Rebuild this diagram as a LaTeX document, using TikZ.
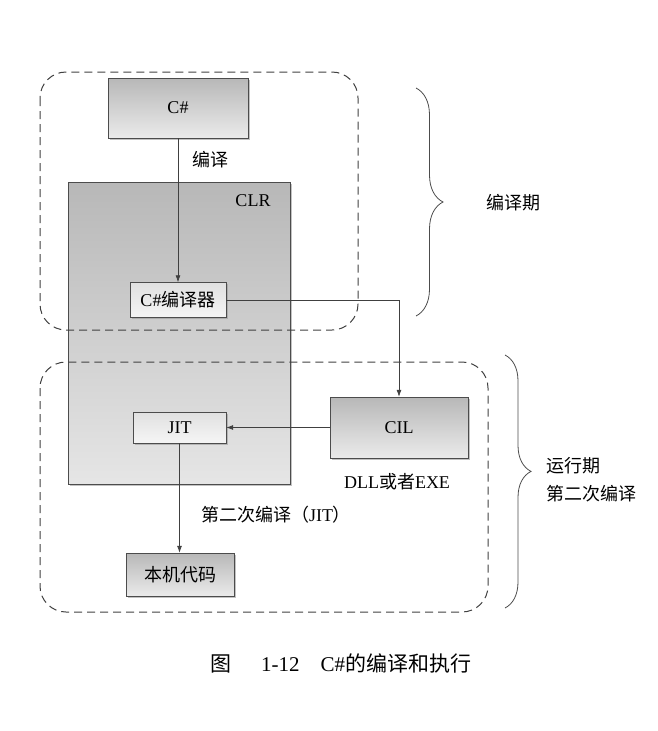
\documentclass[tikz,border=0pt]{standalone}
\usepackage{fontspec}
\setmainfont{Liberation Serif}
\newfontfamily\cjk{Noto Sans CJK SC}
\newcommand\zh[1]{{\cjk #1}}
\usetikzlibrary{shadows,decorations.pathreplacing,arrows.meta}

\tikzset{
  box/.style={draw=black!70, top color=black!28, bottom color=black!8,
    drop shadow={shadow xshift=1.5pt, shadow yshift=-1.5pt, fill=black!40, opacity=.6},
    font=\fontsize{18}{21}\selectfont, inner sep=0pt},
  stage/.style={draw=black!75, line width=1pt, dash pattern=on 8pt off 5pt, rounded corners=26pt},
  arr/.style={draw=black!75, line width=.7pt, -{Latex[length=7pt,width=5pt]}},
  period/.style={draw=black!70, line width=.8pt, decorate},
  txt/.style={font=\fontsize{18}{21}\selectfont, inner sep=0pt}
}

\begin{document}
\begin{tikzpicture}[x=1pt, y=-1pt]
  \useasboundingbox (0,0) rectangle (657,731);

  % CLR
  \node[box, minimum width=222pt, minimum height=302pt, top color=black!28, bottom color=black!10] (clr) at (179,333) {};
  \node[txt] (clrlabel) at (253,201) {CLR};

  % compile time and run time regions
  \draw[stage] (40,72) rectangle (358,330);
  \draw[stage] (40,362) rectangle (488,612);

  % boxes
  \node[box, minimum width=140pt, minimum height=60pt] (csharp) at (178,108) {C\#};
  \node[box, minimum width=96pt, minimum height=35pt, top color=black!12, bottom color=black!4] (compiler) at (178,300) {C\#\zh{编译器}};
  \node[box, minimum width=138pt, minimum height=61pt] (cil) at (399,427.5) {CIL};
  \node[box, minimum width=93pt, minimum height=31pt, top color=black!12, bottom color=black!4] (jit) at (179.5,427.5) {JIT};
  \node[box, minimum width=108pt, minimum height=43pt] (native) at (180,574.5) {\zh{本机代码}};

  % connectors
  \draw[arr] (csharp) -- (compiler);
  \draw[arr] (compiler.east) -| (cil.north);
  \draw[arr] (cil.west) -- (jit.east);
  \draw[arr] (jit.south) -- (jit.south |- native.north);

  \node[txt] (compile) at (210,160) {\zh{编译}};
  \node[txt] (dllexe) at (397,482) {DLL\zh{或者}EXE};
  \node[txt] (second) at (276,515) {\zh{第二次编译（}JIT\zh{）}};

  % braces
  \draw[period, decoration={brace, amplitude=27pt}] (416,88) -- (416,316);
  \draw[period, decoration={brace, amplitude=26pt, aspect=.46}] (505,355) -- (505,608);
  \node[txt] (compiletime) at (513,203) {\zh{编译期}};
  \node[txt, anchor=west] (runtime) at (546,466) {\zh{运行期}};
  \node[txt, anchor=west] (runtime2) at (546,494) {\zh{第二次编译}};

  % caption
  \node[font=\fontsize{21}{25}\selectfont, inner sep=0pt] (caption) at (341,663)
    {\zh{图}\hspace{1.4em}1-12\hspace{1em}C\#\zh{的编译和执行}};
\end{tikzpicture}
\end{document}
